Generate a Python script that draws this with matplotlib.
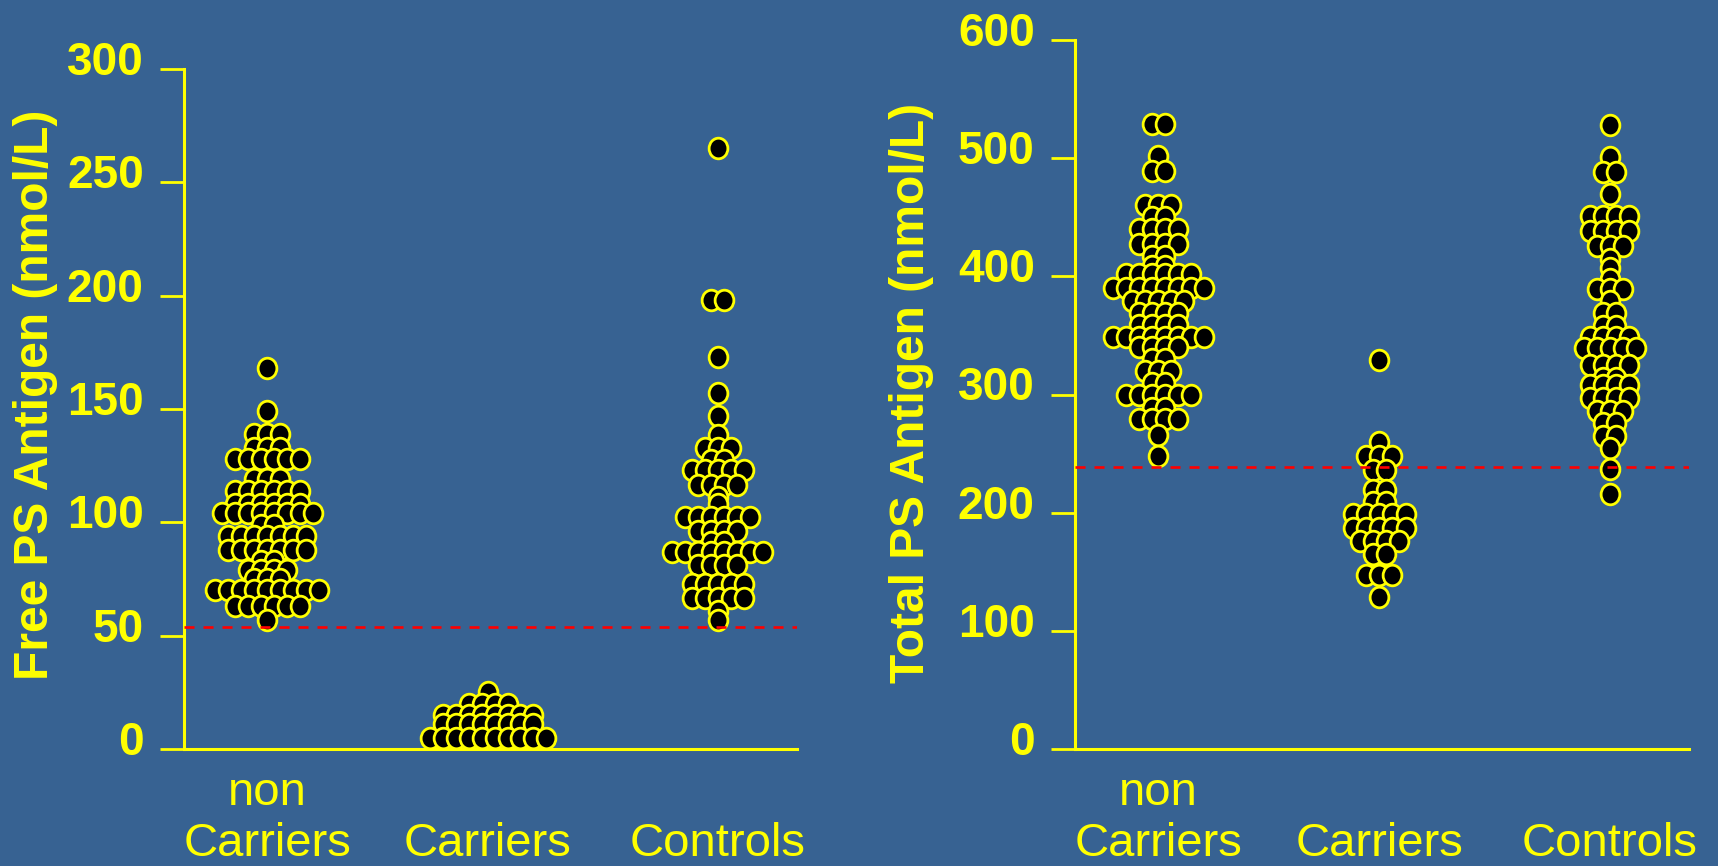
import matplotlib
matplotlib.use('Agg')
from matplotlib import pyplot as plt
from matplotlib.markers import MarkerStyle
from matplotlib.transforms import Affine2D, ScaledTranslation, blended_transform_factory

plt.rcParams['font.family'] = ['Liberation Sans', 'DejaVu Sans']

BG = '#376292'
YELLOW = '#ffff00'

groups = ['non\nCarriers', 'Carriers', 'Controls']

# Free PS antigen (nmol/L): value of each row of dots and how many subjects sit on it
free_noncarrier_levels = [168, 149, 139, 133, 128, 119, 114, 108, 104, 99, 94, 88, 83, 79, 75, 70, 63, 57]
free_noncarrier_counts = [1, 1, 3, 3, 6, 3, 6, 6, 8, 2, 7, 7, 2, 4, 3, 9, 6, 1]

free_carrier_levels = [25, 20, 15, 11, 5]
free_carrier_counts = [1, 4, 8, 8, 10]

free_control_levels = [265, 198, 173, 157, 147, 138.5, 133, 127.5, 123, 116.5, 111, 108,
                       102.5, 96, 91.5, 87, 81, 73, 66.5, 61, 57]
free_control_counts = [1, 2, 1, 1, 1, 1, 3, 2, 5, 4, 1, 1, 6, 4, 2, 8, 4, 5, 5, 1, 1]

free_cutoff = 54

# Total PS antigen (nmol/L)
total_noncarrier_levels = [529, 502, 489, 460, 450, 440, 427, 417, 409, 402, 390, 379,
                           369, 359, 349, 340, 330, 320, 310, 300, 289, 279, 266, 248]
total_noncarrier_counts = [2, 1, 2, 3, 2, 4, 4, 2, 2, 6, 8, 5, 4, 4, 8, 4, 2, 3, 2, 6, 2, 4, 1, 1]

total_carrier_levels = [329, 260, 248, 236, 219, 209, 199, 187, 176, 165, 147, 129]
total_carrier_counts = [1, 1, 3, 2, 2, 2, 5, 5, 4, 2, 3, 1]

total_control_levels = [528, 501, 488, 470, 451, 438, 426, 415, 407, 398, 389, 379, 369,
                        358, 349, 339, 325, 314, 308, 297, 286, 276, 265, 255, 237, 216]
total_control_counts = [1, 1, 2, 1, 4, 4, 3, 1, 1, 1, 3, 1, 2, 2, 4, 5, 4, 2, 4, 4, 3, 2, 2, 1, 1, 1]

total_cutoff = 239

# layout
X_POS = [1.0, 1.98, 3.0]
X_LIM = (0.63, 3.352)
DX = 0.0577
DOT = MarkerStyle('o', transform=Affine2D().scale(1.0, 1.1))


def swarm(ax, x0, levels, counts):
    xs, ys = [], []
    for lv, n in sorted(zip(levels, counts), reverse=True):
        for i in range(n):
            xs.append(x0 + (i - (n - 1) / 2) * DX)
            ys.append(lv)
    ax.plot(xs, ys, ls='none', marker=DOT, ms=13.5, mfc='black', mec=YELLOW,
            mew=2.0, clip_on=False, zorder=2)


def panel(ax, data, cutoff, ymax, ystep, ylabel, label_xy):
    ax.set_facecolor(BG)
    for x0, (levels, counts) in zip(X_POS, data):
        swarm(ax, x0, levels, counts)
    ax.axhline(cutoff, color='red', lw=1.9, dashes=(3.8, 3.4), zorder=3)

    ax.set_xlim(*X_LIM)
    ax.set_ylim(0, ymax)
    for side in ['top', 'right']:
        ax.spines[side].set_visible(False)
    for side in ['left', 'bottom']:
        ax.spines[side].set_color(YELLOW)
        ax.spines[side].set_linewidth(2.2)

    ax.set_xticks([])
    ax.set_yticks(range(0, ymax + 1, ystep))
    ax.tick_params(axis='y', direction='out', length=17, width=2, color=YELLOW,
                   labelcolor=YELLOW, labelsize=33, pad=12)
    lift = ScaledTranslation(0, 8 / 72, fig.dpi_scale_trans)
    for lbl in ax.get_yticklabels():
        lbl.set_fontweight('bold')
        lbl.set_transform(lbl.get_transform() + lift)

    ax.set_ylabel(ylabel, color=YELLOW, fontsize=34.5, fontweight='bold')
    ax.yaxis.set_label_coords(*label_xy)

    trans = blended_transform_factory(ax.transData, fig.transFigure)
    for x0, name in zip(X_POS, groups):
        ax.text(x0, 0.0, name, transform=trans, ha='center', va='bottom',
                fontsize=34, color=YELLOW, linespacing=1.2)


fig = plt.figure(figsize=(17.18, 8.66), dpi=100, facecolor=BG)
ax1 = fig.add_axes([0.1071, 0.1351, 0.3568, 0.7852])
ax2 = fig.add_axes([0.6257, 0.1351, 0.3574, 0.8187])

panel(ax1,
      [(free_noncarrier_levels, free_noncarrier_counts),
       (free_carrier_levels, free_carrier_counts),
       (free_control_levels, free_control_counts)],
      free_cutoff, 300, 50, 'Free PS Antigen (nmol/L)', (-0.205, 0.521))

panel(ax2,
      [(total_noncarrier_levels, total_noncarrier_counts),
       (total_carrier_levels, total_carrier_counts),
       (total_control_levels, total_control_counts)],
      total_cutoff, 600, 100, 'Total PS Antigen (nmol/L)', (-0.229, 0.5025))

fig.savefig('out.png', dpi=100, facecolor=BG)
